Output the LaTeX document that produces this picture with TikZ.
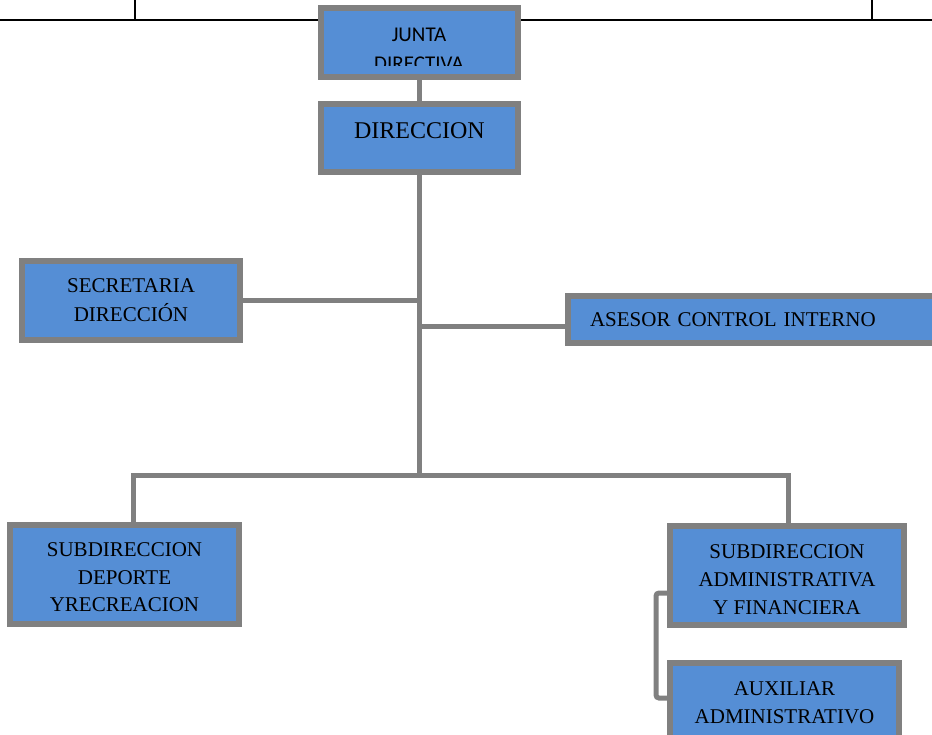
\documentclass[tikz,border=0pt]{standalone}
\usepackage{fontspec}
\setmainfont{Liberation Serif}
\newfontfamily\calibfont{Carlito}
\definecolor{boxblue}{RGB}{85,142,213}
\definecolor{boxgray}{RGB}{128,128,128}
\begin{document}
\begin{tikzpicture}[x=1pt,y=-1pt,
  orgbox/.style={draw=boxgray,line width=6pt,fill=boxblue,inner sep=0pt,align=center,font=\fontsize{21}{28}\selectfont},
  link/.style={draw=boxgray,line width=5pt},
  rulebar/.style={draw=black,line width=2pt},
  ruletick/.style={draw=black,line width=1.5pt},
  juntafont/.style={font=\calibfont\fontsize{21}{29}\selectfont,inner sep=0pt,anchor=base}]
\useasboundingbox (0,0) rectangle (932,734);
% top rule lines
\draw[rulebar] (0,20) -- (932,20);
\draw[ruletick] (135,0) -- (135,20);
\draw[ruletick] (872,0) -- (872,20);
% boxes
\node[orgbox,minimum width=197pt,minimum height=69pt] (junta) at (419.5,42.5) {};
\begin{scope}
  \clip (324,11) rectangle (515,65);
  \node[juntafont] (junta1) at (419,41) {JUNTA};
  \node[juntafont] (junta2) at (419,70) {DIRECTIVA};
\end{scope}
\node[orgbox,minimum width=197pt,minimum height=68pt,font=\fontsize{24}{28}\selectfont,text height=16pt,text depth=16pt] (direccion) at (419.5,138) {DIRECCION};
\node[orgbox,minimum width=218pt,minimum height=79pt,font=\fontsize{21}{29}\selectfont] (secre) at (131,300.5) {SECRETARIA\\DIRECCIÓN};
\node[orgbox,minimum width=400pt,minimum height=47pt,text width=356pt,align=left] (asesor) at (768,319.5) {ASESOR CONTROL INTERNO};
\node[orgbox,minimum width=229pt,minimum height=99pt,font=\fontsize{21}{27.5}\selectfont] (deporte) at (124.5,574.5) {\rule{0pt}{20pt}SUBDIRECCION\\DEPORTE\\YRECREACION};
\node[orgbox,minimum width=234pt,minimum height=99pt] (admin) at (787,575.5) {\rule{0pt}{22pt}SUBDIRECCION\\ADMINISTRATIVA\\Y FINANCIERA};
\node[orgbox,minimum width=229pt,minimum height=79pt] (aux) at (784.5,702.5) {AUXILIAR\\ADMINISTRATIVO};
% connector points
\coordinate (busM) at (419.5,475);
\coordinate (busL) at (133,475);
\coordinate (busR) at (788,475);
\coordinate (c1) at (656,593);
\coordinate (c2) at (656,698);
% connectors
\draw[link] (junta.south) -- (direccion.north);
\draw[link] (direccion.south) -- (busM);
\draw[link] (secre.east) -- (secre.east -| direccion.south);
\draw[link] ([yshift=-7pt]asesor.west) -- ([yshift=-7pt]asesor.west -| direccion.south);
\draw[link] (deporte.north -| busL) -- (busL) -- (busR) -- (busR |- admin.north);
\draw[link,rounded corners=3pt] (admin.west |- c1) -- (c1) -- (c2) -- (aux.west |- c2);
\end{tikzpicture}
\end{document}
